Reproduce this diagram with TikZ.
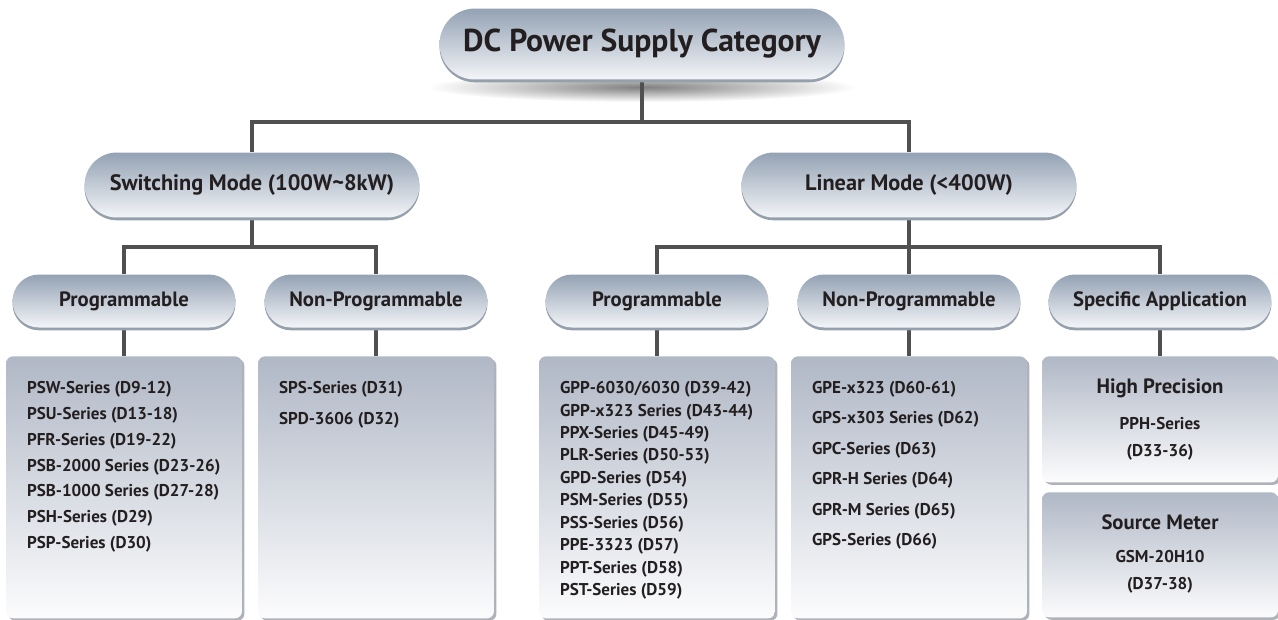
\documentclass[tikz,border=0pt]{standalone}
\usepackage{fontspec}
\setmainfont{PT Sans}
\usetikzlibrary{shapes.misc, shadows, backgrounds, positioning}
\definecolor{pilltop}{RGB}{148, 162, 180}
\definecolor{pillbot}{RGB}{243, 245, 248}
\definecolor{pillrim}{RGB}{150, 160, 172}
\definecolor{boxtop}{RGB}{176, 184, 198}
\definecolor{boxbot}{RGB}{252, 252, 253}
\definecolor{boxshade}{RGB}{175, 178, 184}
\definecolor{linkgray}{RGB}{80, 80, 80}
\definecolor{txt}{RGB}{35, 31, 32}

\begin{document}
\begin{tikzpicture}[
        x=0.02cm, y=-0.02cm,
        node distance=4pt,
        pill/.style={rounded rectangle, top color=pilltop, bottom color=pillbot,
                     text=txt, inner sep=0pt,
                     drop shadow={shadow xshift=0pt, shadow yshift=-1.6pt, fill=pillrim, opacity=1}},
        headpill/.style={pill, minimum width=8.1cm, minimum height=1.42cm,
                         font=\bfseries\fontsize{18}{21}\selectfont},
        modepill/.style={pill, minimum width=6.7cm, minimum height=1.3cm,
                         font=\bfseries\fontsize{12.7}{15}\selectfont},
        typepill/.style={pill, minimum width=4.46cm, minimum height=1.06cm,
                         font=\bfseries\fontsize{11.8}{14}\selectfont},
        box/.style={rectangle, rounded corners=4pt, top color=boxtop, bottom color=boxbot,
                    minimum width=4.72cm, anchor=north, inner sep=0pt,
                    drop shadow={shadow xshift=1.4pt, shadow yshift=-1.4pt, fill=boxshade, opacity=1}},
        list/.style={anchor=north west, inner sep=0pt, align=left, text=txt,
                     font=\bfseries\fontsize{9.7}{14.7}\selectfont},
        boxhead/.style={inner sep=0pt, text=txt, font=\bfseries\fontsize{11.8}{14}\selectfont},
        sub/.style={inner sep=0pt, align=center, text=txt,
                    font=\bfseries\fontsize{9.7}{15.3}\selectfont},
        link/.style={draw=linkgray, line width=1.8pt}
      ]
        \useasboundingbox (0,0) rectangle (1278,619);

        % tree of categories
        \node[headpill] (dcps) at (642,44) {DC Power Supply Category};
        \node[modepill] (swmode) at (252,185) {Switching Mode (100W\textasciitilde 8kW)};
        \node[modepill] (linmode) at (909,185) {Linear Mode (<400W)};
        \node[typepill] (swprog) at (124,301) {Programmable};
        \node[typepill] (swnon) at (376,301) {Non-Programmable};
        \node[typepill] (lnprog) at (657,301) {Programmable};
        \node[typepill] (lnnon) at (909,301) {Non-Programmable};
        \node[typepill] (lnspec) at (1160,301) {Specific Application};

        % series boxes
        \node[box, minimum height=5.24cm] (swprogbox) at (124,356) {};
        \node[box, minimum height=5.24cm] (swnonbox) at (376,356) {};
        \node[box, minimum height=5.24cm] (lnprogbox) at (657,356) {};
        \node[box, minimum height=5.24cm] (lnnonbox) at (909,356) {};
        \node[box, minimum height=2.52cm] (hpbox) at (1160,356) {};
        \node[box, minimum height=2.5cm] (smbox) at (1160,492) {};

        \node[list] (swproglist) at ([shift={(21,25)}]swprogbox.north west)
          {PSW-Series (D9-12)\\PSU-Series (D13-18)\\PFR-Series (D19-22)\\PSB-2000 Series (D23-26)\\PSB-1000 Series (D27-28)\\PSH-Series (D29)\\PSP-Series (D30)};
        \node[list, font=\bfseries\fontsize{9.7}{17.4}\selectfont] (swnonlist) at ([shift={(21,25)}]swnonbox.north west)
          {SPS-Series (D31)\\SPD-3606 (D32)};
        \node[list, font=\bfseries\fontsize{9.7}{12.8}\selectfont] (lnproglist) at ([shift={(21,25)}]lnprogbox.north west)
          {GPP-6030/6030 (D39-42)\\GPP-x323 Series (D43-44)\\PPX-Series (D45-49)\\PLR-Series (D50-53)\\GPD-Series (D54)\\PSM-Series (D55)\\PSS-Series (D56)\\PPE-3323 (D57)\\PPT-Series (D58)\\PST-Series (D59)};
        \node[list, font=\bfseries\fontsize{9.7}{17.3}\selectfont] (lnnonlist) at ([shift={(21,25)}]lnnonbox.north west)
          {GPE-x323 (D60-61)\\GPS-x303 Series (D62)\\GPC-Series (D63)\\GPR-H Series (D64)\\GPR-M Series (D65)\\GPS-Series (D66)};

        \node[boxhead] (hptitle) at (1160,388) {High Precision};
        \node[sub] (hplist) at (1160,439) {PPH-Series\\(D33-36)};
        \node[boxhead] (smtitle) at (1160,522) {Source Meter};
        \node[sub] (smlist) at (1160,572) {GSM-20H10\\(D37-38)};

        % connectors behind the pills
        \begin{scope}[on background layer]
          \shade[inner color=black!50, outer color=white] (642,87) ellipse [x radius=4.3cm, y radius=0.3cm];
          \coordinate (topbus) at (642,122);
          \coordinate (swbus) at (252,247);
          \coordinate (lnbus) at (909,247);
          \draw[link] (dcps.south) -- (topbus);
          \draw[link] (swmode.north) |- (topbus) -| (linmode.north);
          \draw[link] (swmode.south) -- (swbus);
          \draw[link] (swprog.north) |- (swbus) -| (swnon.north);
          \draw[link] (linmode.south) -- (lnbus);
          \draw[link] (lnprog.north) |- (lnbus) -| (lnspec.north);
          \draw[link] (lnbus) -- (lnnon.north);
          \draw[link] (swprog.south) -- (swprogbox.north);
          \draw[link] (swnon.south) -- (swnonbox.north);
          \draw[link] (lnprog.south) -- (lnprogbox.north);
          \draw[link] (lnnon.south) -- (lnnonbox.north);
          \draw[link] (lnspec.south) -- (hpbox.north);
        \end{scope}
      \end{tikzpicture}
\end{document}
